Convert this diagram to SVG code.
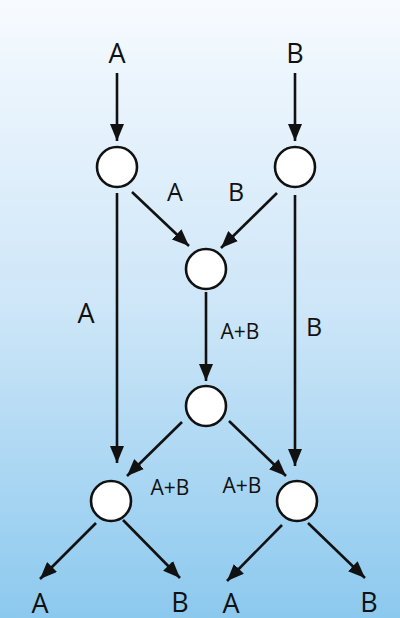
<svg xmlns="http://www.w3.org/2000/svg" width="400" height="618" viewBox="0 0 400 618">
<defs>
<linearGradient id="bg" x1="0" y1="0" x2="0" y2="1">
<stop offset="0" stop-color="#f7fbfe"/>
<stop offset="0.1" stop-color="#eef6fd"/>
<stop offset="0.5" stop-color="#cde6f8"/>
<stop offset="1" stop-color="#8cc9ee"/>
</linearGradient>
<marker id="ah" viewBox="0 0 17 14" refX="17" refY="7" markerWidth="17" markerHeight="14" markerUnits="userSpaceOnUse" orient="auto">
<path d="M0,0 L17,7 L0,14 z" fill="#111"/>
</marker>
</defs>
<style>
.n{fill:#fff;stroke:#111;stroke-width:2.6}
.c line{stroke:#111;stroke-width:2.6;marker-end:url(#ah)}
text{font-family:"Open Sans","Noto Sans","Liberation Sans",sans-serif;font-weight:400;fill:#111;text-anchor:middle}
.big{font-size:27px}
.mid{font-size:25px}
.sm{font-size:21px}
</style>
<rect x="0" y="0" width="400" height="618" fill="url(#bg)"/>
<g id="connectors" class="c">
<line x1="117" y1="73" x2="117" y2="141"/>
<line x1="295" y1="73" x2="295" y2="141"/>
<line x1="132" y1="192" x2="189" y2="246"/>
<line x1="277" y1="193" x2="221" y2="248"/>
<line x1="117" y1="193" x2="117" y2="463"/>
<line x1="295" y1="195" x2="295" y2="466"/>
<line x1="206" y1="292" x2="206" y2="381"/>
<line x1="182" y1="422" x2="127" y2="476"/>
<line x1="229" y1="421" x2="286" y2="476"/>
<line x1="96" y1="523" x2="40" y2="579"/>
<line x1="123" y1="520" x2="180" y2="578"/>
<line x1="282" y1="525" x2="227" y2="581"/>
<line x1="308" y1="523" x2="365" y2="578"/>
</g>
<g id="node1"><circle class="n" cx="117" cy="167" r="20"/></g>
<g id="node2"><circle class="n" cx="295" cy="167" r="20"/></g>
<g id="node3"><circle class="n" cx="206" cy="269" r="20"/></g>
<g id="node4"><circle class="n" cx="206" cy="406" r="20"/></g>
<g id="node5"><circle class="n" cx="111" cy="501" r="20"/></g>
<g id="node6"><circle class="n" cx="297" cy="501" r="20"/></g>
<g id="labels">
<text class="big" x="117" y="63">A</text>
<text class="big" x="295" y="63">B</text>
<text class="mid" x="175" y="201">A</text>
<text class="mid" x="236" y="201">B</text>
<text class="big" x="86" y="323">A</text>
<text class="mid" x="314" y="336">B</text>
<text class="sm" x="240" y="339">A+B</text>
<text class="sm" x="170" y="495">A+B</text>
<text class="sm" x="242" y="493">A+B</text>
<text class="big" x="40" y="613">A</text>
<text class="big" x="180" y="612">B</text>
<text class="big" x="231" y="613">A</text>
<text class="big" x="369" y="612">B</text>
</g>
</svg>
